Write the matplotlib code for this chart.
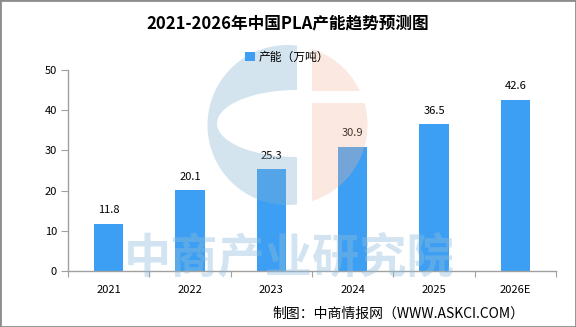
"""2021-2026 China PLA capacity bar chart."""

import numpy as np
import matplotlib

matplotlib.use("Agg")

import matplotlib.pyplot as plt
from matplotlib.patches import Circle, Rectangle, PathPatch
from matplotlib.path import Path

plt.rcParams["font.family"] = ["Noto Sans CJK SC", "DejaVu Sans"]

years = ["2021", "2022", "2023", "2024", "2025", "2026E"]
capacity = [11.8, 20.1, 25.3, 30.9, 36.5, 42.6]
y_ticks = [0, 10, 20, 30, 40, 50]

title = "2021-2026年中国PLA产能趋势预测图"
legend_label = "产能（万吨）"
source_text = "制图：中商情报网（WWW.ASKCI.COM）"
watermark_text = "中商产业研究院"

W, H = 576, 327
BAR_COLOR = "#3d9ff3"
AXIS_COLOR = "#a0a0a0"

fig = plt.figure(figsize=(W / 100, H / 100), dpi=100)
fig.patch.set_facecolor("white")

# main chart area, in pixel measurements from the reference
left, right, top, bottom = 68, 556, 69.7, 271.3
ax = fig.add_axes([left / W, 1 - bottom / H, (right - left) / W, (bottom - top) / H])
ax.patch.set_alpha(0)

x = np.arange(len(years))
bars = ax.bar(x, capacity, width=0.36, color=BAR_COLOR, label=legend_label, zorder=2)
for xi, val in zip(x, capacity):
    ax.annotate(f"{val}", (xi, val), xytext=(0, 6), textcoords="offset points",
                ha="center", va="bottom", fontsize=8, color="black")

ax.set_xlim(-0.5, len(years) - 0.5)
ax.set_ylim(0, 50)
ax.set_yticks(y_ticks)
ax.set_yticklabels([str(t) for t in y_ticks], fontsize=8)

# category boundaries carry the tick marks, labels sit at the centres
ax.set_xticks(np.arange(len(years) + 1) - 0.5)
ax.set_xticklabels([])
ax.set_xticks(x, minor=True)
ax.set_xticklabels(years, minor=True, fontsize=8)
ax.tick_params(axis="x", which="major", length=4, color=AXIS_COLOR, direction="out")
ax.tick_params(axis="x", which="minor", length=0, pad=10)
ax.tick_params(axis="y", length=5, color=AXIS_COLOR, pad=3)

for side in ("top", "right"):
    ax.spines[side].set_visible(False)
for side in ("left", "bottom"):
    ax.spines[side].set_color(AXIS_COLOR)
    ax.spines[side].set_linewidth(1.0)

fig.text(288 / W, 1 - 23 / H, title, ha="center", va="center",
         fontsize=12, fontweight="bold")
fig.legend(handles=[bars], labels=[legend_label], loc="center",
           bbox_to_anchor=(287 / W, 1 - 57 / H), frameon=False, fontsize=8.5,
           handlelength=0.8, handleheight=0.8, handletextpad=0.3)
fig.text(524 / W, 1 - 313.5 / H, source_text, ha="right", va="center", fontsize=10)

# watermark overlay (logo + company name), drawn in pixel coordinates
wm = fig.add_axes([0, 0, 1, 1], zorder=5)
wm.set_xlim(0, W)
wm.set_ylim(H, 0)
wm.axis("off")
wm.patch.set_alpha(0)

cx, cy, R = 287.5, 125, 80
blue = "#81b2d1"
peach = "#f2b49c"

theta = np.linspace(0, 2 * np.pi, 200)
ring = np.column_stack([cx + R * np.cos(theta), cy + R * np.sin(theta)])
hole = np.column_stack([297 + 80 * np.cos(theta), 123.5 + 33.5 * np.sin(theta)])[::-1]

verts = np.vstack([ring, hole])
codes = ([Path.MOVETO] + [Path.LINETO] * (len(ring) - 1)
         + [Path.MOVETO] + [Path.LINETO] * (len(hole) - 1))
blue_patch = PathPatch(Path(verts, codes), facecolor=blue, edgecolor="none", alpha=0.35)
wm.add_patch(blue_patch)
clip_left = Rectangle((0, 0), 297, H, transform=wm.transData, visible=False)
wm.add_patch(clip_left)
blue_patch.set_clip_path(clip_left)

for y0, y1 in [(0, 91), (103, H)]:
    piece = Circle((cx, cy), R, facecolor=peach, edgecolor="none", alpha=0.3)
    wm.add_patch(piece)
    clip = Rectangle((312, y0), W, y1 - y0, transform=wm.transData, visible=False)
    wm.add_patch(clip)
    piece.set_clip_path(clip)

wm.text(289, 258, watermark_text, ha="center", va="center", fontsize=34,
        fontweight="bold", color="#8fbcdc", alpha=0.4)

# outer frame
fig.patches.append(Rectangle((0, 0), 1, 1, transform=fig.transFigure, fill=False,
                             edgecolor="#8c8c8c", linewidth=2))

fig.savefig("out.png", dpi=100)
